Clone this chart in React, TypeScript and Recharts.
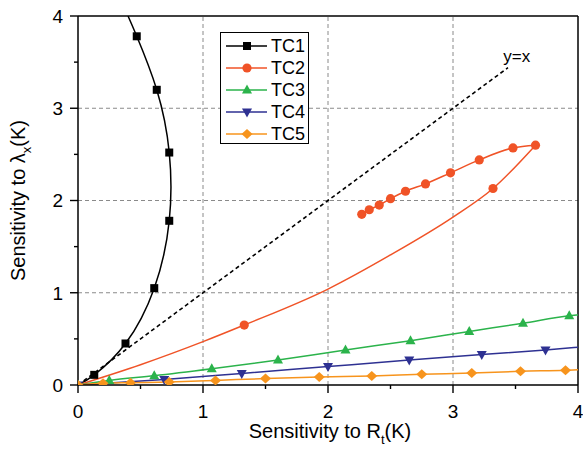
import React from 'react';
import {
  ComposedChart,
  Line,
  Scatter,
  XAxis,
  YAxis,
  ReferenceLine,
  ReferenceDot,
  Legend,
} from 'recharts';

// ---------- data ----------
const axisTicks = [0, 0.5, 1, 1.5, 2, 2.5, 3, 3.5, 4];
const gridValues = [1, 2, 3];

const tc1Curve: number[][] = [
  [0, 0], [0.13, 0.11], [0.38, 0.45], [0.61, 1.05], [0.73, 1.78],
  [0.73, 2.52], [0.63, 3.2], [0.47, 3.78], [0.4, 4.0],
];
const tc1Marks: number[][] = [
  [0.13, 0.11], [0.38, 0.45], [0.61, 1.05], [0.73, 1.78],
  [0.73, 2.52], [0.63, 3.2], [0.47, 3.78],
];

// TC2 loops back on itself: outgoing (lower) branch and returning (upper) branch
const tc2Lower: number[][] = [
  [0, 0], [0.5, 0.22], [1, 0.47], [1.33, 0.65], [2, 1.04], [2.5, 1.41],
  [3, 1.82], [3.32, 2.13], [3.66, 2.6],
];
const tc2Upper: number[][] = [
  [2.27, 1.85], [2.33, 1.9], [2.41, 1.95], [2.5, 2.02], [2.62, 2.1],
  [2.78, 2.18], [2.98, 2.3], [3.21, 2.44], [3.48, 2.57], [3.66, 2.6],
];
const tc2Marks: number[][] = [
  [1.33, 0.65], [3.32, 2.13], [3.66, 2.6], [3.48, 2.57], [3.21, 2.44],
  [2.98, 2.3], [2.78, 2.18], [2.62, 2.1], [2.5, 2.02], [2.41, 1.95],
  [2.33, 1.9], [2.27, 1.85],
];

const tc3Curve: number[][] = [
  [0, 0], [0.25, 0.05], [0.61, 0.1], [1.07, 0.175], [1.6, 0.27], [2.14, 0.38],
  [2.66, 0.48], [3.13, 0.58], [3.56, 0.67], [3.93, 0.75], [4, 0.76],
];
const tc3Marks: number[][] = [
  [0, 0], [0.25, 0.05], [0.61, 0.1], [1.07, 0.175], [1.6, 0.27], [2.14, 0.38],
  [2.66, 0.48], [3.13, 0.58], [3.56, 0.67], [3.93, 0.75],
];

const tc4Curve: number[][] = [
  [0, 0], [0.69, 0.06], [1.31, 0.125], [2.0, 0.2], [2.65, 0.27],
  [3.23, 0.33], [3.74, 0.38], [4, 0.41],
];
const tc4Marks: number[][] = [
  [0, 0], [0.69, 0.06], [1.31, 0.125], [2.0, 0.2], [2.65, 0.27],
  [3.23, 0.33], [3.74, 0.38],
];

const tc5Curve: number[][] = [
  [0, 0], [0.2, 0.018], [0.42, 0.025], [0.73, 0.033], [1.1, 0.05], [1.5, 0.07],
  [1.93, 0.087], [2.35, 0.098], [2.75, 0.116], [3.15, 0.13], [3.54, 0.149],
  [3.9, 0.16], [4, 0.165],
];
const tc5Marks: number[][] = [
  [0, 0], [0.2, 0.018], [0.42, 0.025], [0.73, 0.033], [1.1, 0.05], [1.5, 0.07],
  [1.93, 0.087], [2.35, 0.098], [2.75, 0.116], [3.15, 0.13], [3.54, 0.149],
  [3.9, 0.16],
];

const identityLine: number[][] = [[0, 0], [3.44, 3.44]];
const identityLabel = { x: 3.51, y: 3.57, text: 'y=x' };

const seriesNames = ['TC1', 'TC2', 'TC3', 'TC4', 'TC5'];

// ---------- styling ----------
const FONT = '"Liberation Sans", Arial, Helvetica, sans-serif';
const TICK_SIZE = 8;
const TICK_MARGIN = 6;

type Kind = 'square' | 'circle' | 'up' | 'down' | 'diamond';
const styles: { color: string; kind: Kind }[] = [
  { color: '#000000', kind: 'square' },
  { color: '#f05327', kind: 'circle' },
  { color: '#2bb34b', kind: 'up' },
  { color: '#2e3192', kind: 'down' },
  { color: '#f7941d', kind: 'diamond' },
];

const toPts = (arr: number[][]) => arr.map(([x, y]) => ({ x, y }));

// each curve: [seriesIndex, points, curve type]
const curveDefs: { s: number; pts: number[][]; type: any }[] = [
  { s: 0, pts: tc1Curve, type: 'natural' },
  { s: 1, pts: tc2Lower, type: 'monotoneX' },
  { s: 1, pts: tc2Upper, type: 'monotoneX' },
  { s: 2, pts: tc3Curve, type: 'monotoneX' },
  { s: 3, pts: tc4Curve, type: 'monotoneX' },
  { s: 4, pts: tc5Curve, type: 'monotoneX' },
];
const marks = [tc1Marks, tc2Marks, tc3Marks, tc4Marks, tc5Marks].map(toPts);

function Marker({ cx, cy, kind, color }: { cx: number; cy: number; kind: Kind; color: string }) {
  if (cx == null || cy == null || isNaN(cx) || isNaN(cy)) return null;
  switch (kind) {
    case 'square':
      return <rect x={cx - 4} y={cy - 4} width={8} height={8} fill={color} />;
    case 'circle':
      return <circle cx={cx} cy={cy} r={4.6} fill={color} />;
    case 'up':
      return (
        <polygon
          points={`${cx},${cy - 5.5} ${cx - 5},${cy + 3.5} ${cx + 5},${cy + 3.5}`}
          fill={color}
        />
      );
    case 'down':
      return (
        <polygon
          points={`${cx},${cy + 5.5} ${cx - 5},${cy - 3.5} ${cx + 5},${cy - 3.5}`}
          fill={color}
        />
      );
    case 'diamond':
    default:
      return (
        <polygon
          points={`${cx},${cy - 5} ${cx + 5.5},${cy} ${cx},${cy + 5} ${cx - 5.5},${cy}`}
          fill={color}
        />
      );
  }
}

const XTick = (props: any) => {
  const { x, y, payload } = props;
  const v = payload.value as number;
  const major = Number.isInteger(v);
  const y0 = y - TICK_SIZE - TICK_MARGIN;
  return (
    <g>
      <line x1={x} x2={x} y1={y0} y2={y0 + (major ? 8 : 4)} stroke="#000" strokeWidth={1.4} />
      {major && (
        <text x={x} y={y0 + 33} textAnchor="middle" fontSize={19} fontFamily={FONT} fill="#000">
          {v}
        </text>
      )}
    </g>
  );
};

const YTick = (props: any) => {
  const { x, y, payload } = props;
  const v = payload.value as number;
  const major = Number.isInteger(v);
  const x0 = x + TICK_SIZE + TICK_MARGIN;
  return (
    <g>
      <line x1={x0} x2={x0 - (major ? 8 : 4)} y1={y} y2={y} stroke="#000" strokeWidth={1.4} />
      {major && (
        <text x={x0 - 15} y={y} dy="0.36em" textAnchor="end" fontSize={19} fontFamily={FONT} fill="#000">
          {v}
        </text>
      )}
    </g>
  );
};

const XTitle = (props: any) => {
  const vb = props.viewBox || { x: 78, y: 385, width: 500, height: 78 };
  const cx = vb.x + vb.width / 2 + 2;
  const by = vb.y + 53;
  return (
    <text x={cx} y={by} textAnchor="middle" fontSize={20} fontFamily={FONT} fill="#000">
      <tspan>Sensitivity to R</tspan>
      <tspan fontSize={13} dy={6}>t</tspan>
      <tspan dy={-6}>(K)</tspan>
    </text>
  );
};

const YTitle = (props: any) => {
  const vb = props.viewBox || { x: 0, y: 16, width: 78, height: 369 };
  const cy = vb.y + vb.height / 2;
  const bx = vb.x + 25;
  return (
    <text
      x={bx}
      y={cy}
      transform={`rotate(-90, ${bx}, ${cy})`}
      textAnchor="middle"
      fontSize={20}
      fontFamily={FONT}
      fill="#000"
    >
      <tspan>Sensitivity to λ</tspan>
      <tspan fontSize={13} dy={6}>x</tspan>
      <tspan dy={-6}>(K)</tspan>
    </text>
  );
};

const LegendBox = () => (
  <div
    style={{
      border: '1.5px solid #000',
      background: '#fff',
      width: 89,
      height: 112,
      boxSizing: 'border-box',
      padding: '2px 0 0 0',
      fontFamily: FONT,
    }}
  >
    {seriesNames.map((name, i) => (
      <div key={name} style={{ display: 'flex', alignItems: 'center', height: 22 }}>
        <svg width={50} height={22} style={{ display: 'block' }}>
          <line x1={5} x2={46} y1={11} y2={11} stroke={styles[i].color} strokeWidth={1.5} />
          <Marker cx={26} cy={11} kind={styles[i].kind} color={styles[i].color} />
        </svg>
        <span style={{ fontSize: 18, lineHeight: '22px', color: '#000' }}>{name}</span>
      </div>
    ))}
  </div>
);

export default function App() {
  return (
    <div style={{ position: 'absolute', left: 0, top: 0, background: '#fff' }}>
      <ComposedChart
        width={583}
        height={463}
        margin={{ top: 16, right: 5, bottom: 0, left: 0 }}
        style={{ fontFamily: FONT }}
      >
        <XAxis
          type="number"
          dataKey="x"
          domain={[0, 4]}
          ticks={axisTicks}
          interval={0}
          height={78}
          tickSize={TICK_SIZE}
          tickMargin={TICK_MARGIN}
          tickLine={false}
          tick={XTick}
          axisLine={{ stroke: '#000', strokeWidth: 1.5 }}
          label={XTitle}
          allowDataOverflow
        />
        <YAxis
          type="number"
          dataKey="y"
          domain={[0, 4]}
          ticks={axisTicks}
          interval={0}
          width={78}
          tickSize={TICK_SIZE}
          tickMargin={TICK_MARGIN}
          tickLine={false}
          tick={YTick}
          axisLine={{ stroke: '#000', strokeWidth: 1.5 }}
          label={YTitle}
          allowDataOverflow
        />
        {gridValues.map((v) => (
          <ReferenceLine key={'gx' + v} x={v} stroke="#8a8a8a" strokeDasharray="4 3" strokeWidth={1} />
        ))}
        {gridValues.map((v) => (
          <ReferenceLine key={'gy' + v} y={v} stroke="#8a8a8a" strokeDasharray="4 3" strokeWidth={1} />
        ))}
        <ReferenceLine y={4} stroke="#000" strokeWidth={1.5} />
        <ReferenceLine x={4} stroke="#000" strokeWidth={1.5} />

        <Line
          data={toPts(identityLine)}
          dataKey="y"
          type="linear"
          stroke="#000"
          strokeWidth={1.6}
          strokeDasharray="4 3"
          dot={false}
          activeDot={false}
          isAnimationActive={false}
          legendType="none"
        />
        <ReferenceDot
          x={identityLabel.x}
          y={identityLabel.y}
          r={0}
          fill="none"
          stroke="none"
          label={{ value: identityLabel.text, position: 'center', fill: '#000', fontSize: 17, fontFamily: FONT }}
        />

        {curveDefs.map((c, i) => (
          <Line
            key={'c' + i}
            data={toPts(c.pts)}
            dataKey="y"
            name={seriesNames[c.s]}
            type={c.type}
            stroke={styles[c.s].color}
            strokeWidth={1.5}
            dot={false}
            activeDot={false}
            isAnimationActive={false}
          />
        ))}
        {marks.map((m, i) => (
          <Scatter
            key={'m' + i}
            data={m}
            dataKey="y"
            fill={styles[i].color}
            isAnimationActive={false}
            legendType="none"
            shape={(p: any) => (
              <Marker cx={p.cx} cy={p.cy} kind={styles[i].kind} color={styles[i].color} />
            )}
          />
        ))}
        <Legend
          layout="vertical"
          align="center"
          verticalAlign="middle"
          content={() => <LegendBox />}
          wrapperStyle={{ position: 'absolute', left: 220, top: 32, width: 89, height: 112 }}
        />
      </ComposedChart>
    </div>
  );
}
